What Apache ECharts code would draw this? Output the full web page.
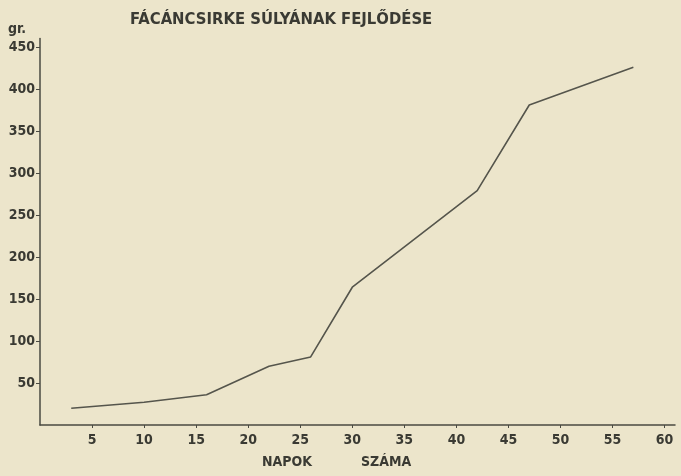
<!DOCTYPE html>
<html>
<head>
<meta charset="utf-8">
<script src="https://cdn.jsdelivr.net/npm/echarts@6/dist/echarts.min.js"></script>
<style>
  html, body { margin: 0; padding: 0; background: #ece5cb; }
  #main { width: 681px; height: 476px; }
</style>
</head>
<body>
<div id="main"></div>
<script>
// napok szama (days) and suly (grams)
const days = [3, 10, 16, 22, 26, 30, 42, 47, 57];
const weights = [20, 27, 36, 70, 81, 164, 279, 381, 426];
const xTicks = [5, 10, 15, 20, 25, 30, 35, 40, 45, 50, 55, 60];
const yTicks = [50, 100, 150, 200, 250, 300, 350, 400, 450];

const ink = "#4a4a42";
const font = "'DejaVu Sans Condensed', 'DejaVu Sans', sans-serif";

const chart = echarts.init(document.getElementById("main"));

chart.setOption({
  backgroundColor: "#ece5cb",
  animation: false,
  grid: { left: 40, right: 6, top: 38.6, bottom: 51 },
  xAxis: {
    type: "value",
    min: 0,
    max: 61,
    splitLine: { show: false },
    axisLine: { lineStyle: { color: ink, width: 1.5 } },
    axisTick: { customValues: xTicks, length: 3, lineStyle: { color: ink } },
    axisLabel: {
      customValues: xTicks,
      color: "#3a3a33",
      fontFamily: font,
      fontWeight: "bold",
      fontSize: 14,
      margin: 8
    }
  },
  yAxis: {
    type: "value",
    min: 0,
    max: 460,
    splitLine: { show: false },
    axisLine: { show: true, lineStyle: { color: ink, width: 1.5 } },
    axisTick: { show: true, customValues: yTicks, length: 4, lineStyle: { color: ink } },
    axisLabel: {
      customValues: yTicks,
      color: "#3a3a33",
      fontFamily: font,
      fontWeight: "bold",
      fontSize: 14,
      margin: 5
    }
  },
  series: [
    {
      type: "line",
      data: days.map((d, i) => [d, weights[i]]),
      symbol: "none",
      lineStyle: { color: "#55554c", width: 1.6 }
    }
  ],
  graphic: [
    {
      type: "text", left: 130, top: 11,
      style: { text: "FÁCÁNCSIRKE SÚLYÁNAK FEJLŐDÉSE", fill: "#3a3a33",
               font: "bold 16.5px " + font }
    },
    {
      type: "text", left: 8, top: 22,
      style: { text: "gr.", fill: "#3a3a33", font: "bold 14px " + font }
    },
    {
      type: "text", left: 262, top: 455,
      style: { text: "NAPOK", fill: "#3a3a33", font: "bold 14px " + font }
    },
    {
      type: "text", left: 361, top: 455,
      style: { text: "SZÁMA", fill: "#3a3a33", font: "bold 14px " + font }
    }
  ]
});
</script>
</body>
</html>
